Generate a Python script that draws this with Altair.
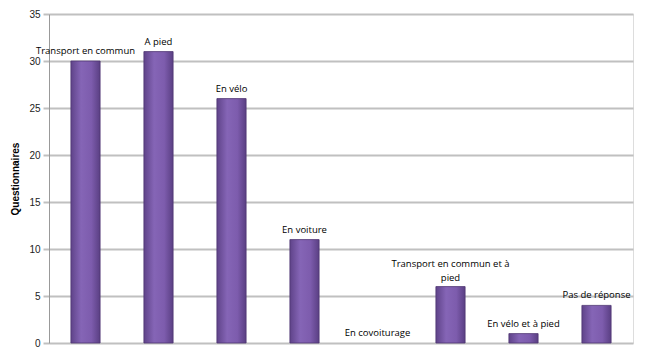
import altair as alt
import pandas as pd

categories = ["Transport en commun", "A pied", "En vélo", "En voiture", "En covoiturage",
              "Transport en commun et à pied", "En vélo et à pied", "Pas de réponse"]
values = [30, 31, 26, 11, 0, 6, 1, 4]
label_line1 = ["Transport en commun", "A pied", "En vélo", "En voiture", "En covoiturage",
               "Transport en commun et à", "En vélo et à pied", "Pas de réponse"]
label_line2 = ["", "", "", "", "", "pied", "", ""]
y_ticks = [0, 5, 10, 15, 20, 25, 30, 35]

df = pd.DataFrame({"cat": categories, "val": values, "l1": label_line1, "l2": label_line2})

x = alt.X("cat:N", sort=categories, axis=None,
          scale=alt.Scale(paddingInner=0.6, paddingOuter=0.3))
y = alt.Y("val:Q", scale=alt.Scale(domain=[0, 35], nice=False),
          axis=alt.Axis(values=y_ticks, title="Questionnaires", titleFont="Liberation Sans",
                        titleFontSize=10, titleFontWeight="bold", titleColor="black",
                        titlePadding=8, labelFont="Liberation Sans", labelFontSize=10,
                        labelColor="#222", gridColor="#c0c0c0", gridWidth=2,
                        domainColor="#999", domainWidth=1, tickColor="#c0c0c0",
                        tickSize=6, tickWidth=2, labelPadding=3))

grad = alt.Gradient(gradient="linear", x1=0, x2=1, y1=0, y2=0,
                    stops=[alt.GradientStop(color="#5f4389", offset=0),
                           alt.GradientStop(color="#8565b6", offset=0.35),
                           alt.GradientStop(color="#7d5cad", offset=0.7),
                           alt.GradientStop(color="#5a3f83", offset=1)])

base = alt.Chart(df)
bars = base.transform_filter("datum.val > 0").mark_bar(
    color=grad, stroke="#4e3672", strokeWidth=0.8).encode(x=x, y=y)

single = base.transform_filter("datum.l2 == ''").mark_text(
    baseline="bottom", dy=-5, font="Open Sans", fontSize=9.5, color="black").encode(
    x=x, y=alt.Y("val:Q"), text="l1:N")

multi1 = base.transform_filter("datum.l2 != ''").mark_text(
    baseline="bottom", dy=-18, font="Open Sans", fontSize=9.5, color="black").encode(
    x=x, y=alt.Y("val:Q"), text="l1:N")
multi2 = base.transform_filter("datum.l2 != ''").mark_text(
    baseline="bottom", dy=-4, font="Open Sans", fontSize=9.5, color="black").encode(
    x=x, y=alt.Y("val:Q"), text="l2:N")

chart = (bars + single + multi1 + multi2).properties(
    width=584, height=329,
    autosize=alt.AutoSizeParams(type="none"),
    padding={"left": 49, "top": 14, "right": 15, "bottom": 14},
).configure_view(stroke=None).configure(background="white")

chart.save("out.html", embed_options={"renderer": "svg", "actions": False})
